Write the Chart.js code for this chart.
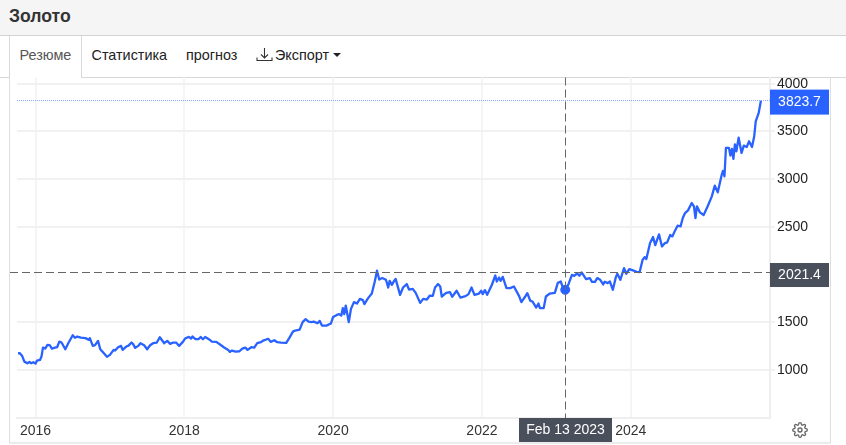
<!DOCTYPE html>
<html>
<head>
<meta charset="utf-8">
<title>Золото</title>
<script src="https://cdn.jsdelivr.net/npm/chart.js@4"></script>
<style>
    html, body { margin: 0; padding: 0; background: #fff; }
    body { width: 846px; height: 445px; overflow: hidden; position: relative; font-family: "Liberation Sans", Arial, sans-serif; }
    #head { position: absolute; left: 0; top: 0; width: 846px; height: 35px; background: #f5f5f5; border-bottom: 1px solid #d4d4d4; }
    #head b { position: absolute; left: 9px; top: 6px; font-size: 17.6px; color: #333; }
    #tabline { position: absolute; left: 0; top: 77px; width: 846px; height: 1px; background: #d8d8d8; }
    .tab { position: absolute; top: 47px; font-size: 14.4px; line-height: 16px; color: #222; white-space: nowrap; }
    #active { position: absolute; left: 9px; top: 36px; width: 71px; height: 42px; background: #fff; border-left: 1px solid #d8d8d8; border-right: 1px solid #d8d8d8; }
    #frame { position: absolute; left: 9px; top: 78px; width: 820px; height: 364px; border-left: 1px solid #dedede; border-right: 1px solid #dedede; border-bottom: 2px solid #ececec; }
    #chart { position: absolute; left: 0; top: 72px; }
    #caret { position: absolute; left: 333px; top: 53px; width: 0; height: 0; border-left: 4px solid transparent; border-right: 4px solid transparent; border-top: 4.5px solid #222; }
    svg { position: absolute; }
</style>
</head>
<body>
<div id="head"><b>Золото</b></div>
<div id="tabline"></div>
<div id="active"></div>
<div class="tab" style="left:19.5px;color:#555">Резюме</div>
<div class="tab" style="left:91.5px">Статистика</div>
<div class="tab" style="left:186px">прогноз</div>
<svg style="left:256px;top:47px" width="17" height="16" viewBox="0 0 17 16" fill="none" stroke="#333" stroke-width="1.1">
    <path d="M8.5 1V10.5M5 7.5L8.5 11L12 7.5M1 10.5V13.5H16V10.5"/>
</svg>
<div class="tab" style="left:275px">Экспорт</div>
<div id="caret"></div>
<div id="frame"></div>
<canvas id="chart" width="846" height="373"></canvas>
<svg style="left:792px;top:422px" width="16" height="16" viewBox="0 0 24 24" fill="none" stroke="#666" stroke-width="2">
    <circle cx="12" cy="12" r="3"/>
    <path d="M19.4 15a1.65 1.65 0 0 0 .33 1.82l.06.06a2 2 0 0 1 0 2.83 2 2 0 0 1-2.83 0l-.06-.06a1.65 1.65 0 0 0-1.82-.33 1.65 1.65 0 0 0-1 1.51V21a2 2 0 0 1-2 2 2 2 0 0 1-2-2v-.09A1.65 1.65 0 0 0 9 19.4a1.65 1.65 0 0 0-1.82.33l-.06.06a2 2 0 0 1-2.83 0 2 2 0 0 1 0-2.83l.06-.06a1.65 1.65 0 0 0 .33-1.82 1.65 1.65 0 0 0-1.51-1H3a2 2 0 0 1-2-2 2 2 0 0 1 2-2h.09A1.65 1.65 0 0 0 4.6 9a1.65 1.65 0 0 0-.33-1.82l-.06-.06a2 2 0 0 1 0-2.83 2 2 0 0 1 2.83 0l.06.06a1.65 1.65 0 0 0 1.82.33H9a1.65 1.65 0 0 0 1-1.51V3a2 2 0 0 1 2-2 2 2 0 0 1 2 2v.09a1.65 1.65 0 0 0 1 1.51 1.65 1.65 0 0 0 1.82-.33l.06-.06a2 2 0 0 1 2.83 0 2 2 0 0 1 0 2.83l-.06.06a1.65 1.65 0 0 0-.33 1.82V9a1.65 1.65 0 0 0 1.51 1H21a2 2 0 0 1 2 2 2 2 0 0 1-2 2h-.09a1.65 1.65 0 0 0-1.51 1z"/>
</svg>
<script>
// Gold price (decimal year, USD)
var years = [
    2015.765, 2015.79, 2015.82, 2015.85, 2015.89, 2015.92, 2015.94, 2015.97, 2016.00, 2016.02, 2016.06, 2016.08, 2016.10, 2016.13, 2016.16, 2016.19,
    2016.22, 2016.26, 2016.29, 2016.32, 2016.35, 2016.40, 2016.44, 2016.50, 2016.53, 2016.56, 2016.61, 2016.67, 2016.72, 2016.73, 2016.77, 2016.80,
    2016.84, 2016.87, 2016.91, 2016.96, 2017.00, 2017.05, 2017.07, 2017.11, 2017.15, 2017.17, 2017.22, 2017.25, 2017.29, 2017.31, 2017.34, 2017.38,
    2017.41, 2017.46, 2017.50, 2017.54, 2017.58, 2017.63, 2017.67, 2017.73, 2017.77, 2017.81, 2017.85, 2017.89, 2017.93, 2017.98, 2018.01, 2018.06,
    2018.09, 2018.11, 2018.15, 2018.19, 2018.22, 2018.25, 2018.28, 2018.33, 2018.37, 2018.43, 2018.48, 2018.53, 2018.59, 2018.61, 2018.64, 2018.69,
    2018.74, 2018.78, 2018.82, 2018.85, 2018.90, 2018.94, 2018.98, 2019.03, 2019.06, 2019.11, 2019.13, 2019.16, 2019.21, 2019.25, 2019.30, 2019.37,
    2019.41, 2019.46, 2019.49, 2019.55, 2019.59, 2019.63, 2019.67, 2019.71, 2019.74, 2019.79, 2019.82, 2019.85, 2019.91, 2019.97, 2020.00, 2020.05,
    2020.08, 2020.11, 2020.13, 2020.15, 2020.17, 2020.21, 2020.24, 2020.28, 2020.32, 2020.36, 2020.40, 2020.42, 2020.47, 2020.52, 2020.56, 2020.59,
    2020.62, 2020.66, 2020.71, 2020.74, 2020.76, 2020.79, 2020.82, 2020.84, 2020.90, 2020.94, 2020.99, 2021.02, 2021.07, 2021.11, 2021.17, 2021.21,
    2021.26, 2021.30, 2021.34, 2021.37, 2021.41, 2021.44, 2021.46, 2021.52, 2021.57, 2021.60, 2021.66, 2021.71, 2021.78, 2021.82, 2021.86, 2021.90,
    2021.96, 2021.99, 2022.01, 2022.04, 2022.07, 2022.13, 2022.18, 2022.20, 2022.23, 2022.25, 2022.28, 2022.33, 2022.38, 2022.43, 2022.50, 2022.53,
    2022.58, 2022.61, 2022.65, 2022.68, 2022.73, 2022.76, 2022.78, 2022.83, 2022.86, 2022.91, 2022.98, 2023.02, 2023.06, 2023.09, 2023.12, 2023.16,
    2023.21, 2023.24, 2023.28, 2023.31, 2023.34, 2023.40, 2023.45, 2023.48, 2023.52, 2023.55, 2023.59, 2023.63, 2023.65, 2023.69, 2023.72, 2023.76,
    2023.80, 2023.82, 2023.86, 2023.91, 2023.94, 2023.98, 2024.03, 2024.08, 2024.12, 2024.16, 2024.19, 2024.21, 2024.26, 2024.30, 2024.33, 2024.38,
    2024.42, 2024.46, 2024.49, 2024.53, 2024.56, 2024.59, 2024.63, 2024.67, 2024.70, 2024.73, 2024.77, 2024.82, 2024.85, 2024.87, 2024.89, 2024.93,
    2024.98, 2025.03, 2025.09, 2025.13, 2025.17, 2025.22, 2025.24, 2025.26, 2025.28, 2025.32, 2025.34, 2025.36, 2025.38, 2025.40, 2025.42, 2025.45,
    2025.49, 2025.52, 2025.56, 2025.59, 2025.63, 2025.66, 2025.68, 2025.72, 2025.75
];
var prices = [
    1175, 1175, 1147, 1087, 1070, 1084, 1070, 1081, 1066, 1098, 1105, 1140, 1234, 1224, 1262, 1259,
    1224, 1234, 1238, 1297, 1287, 1217, 1280, 1364, 1336, 1350, 1339, 1333, 1315, 1333, 1252, 1259,
    1305, 1217, 1182, 1137, 1158, 1210, 1203, 1238, 1252, 1210, 1245, 1255, 1287, 1273, 1231, 1252,
    1280, 1259, 1217, 1259, 1280, 1287, 1343, 1280, 1305, 1273, 1287, 1287, 1252, 1294, 1329, 1346,
    1329, 1350, 1322, 1322, 1346, 1322, 1346, 1322, 1297, 1294, 1266, 1238, 1210, 1189, 1203, 1192,
    1196, 1224, 1234, 1210, 1238, 1234, 1280, 1291, 1308, 1322, 1325, 1294, 1312, 1291, 1287, 1283,
    1333, 1402, 1413, 1423, 1501, 1532, 1507, 1501, 1507, 1490, 1514, 1465, 1465, 1486, 1556, 1577,
    1585, 1570, 1648, 1585, 1675, 1501, 1640, 1711, 1696, 1745, 1732, 1690, 1753, 1801, 1927, 2040,
    1948, 1963, 1945, 1864, 1934, 1892, 1934, 1955, 1787, 1864, 1900, 1843, 1850, 1808, 1703, 1745,
    1738, 1780, 1777, 1864, 1900, 1875, 1770, 1808, 1816, 1767, 1830, 1759, 1774, 1795, 1864, 1787,
    1801, 1830, 1795, 1837, 1787, 1885, 1990, 1927, 1969, 1934, 1976, 1858, 1858, 1875, 1774, 1711,
    1767, 1805, 1725, 1717, 1654, 1696, 1648, 1648, 1770, 1801, 1808, 1913, 1927, 1858, 1840, 1892,
    1997, 1985, 2011, 1987, 2022, 1952, 1963, 1924, 1924, 1963, 1945, 1896, 1924, 1910, 1927, 1840,
    1973, 2008, 1945, 2068, 2008, 2057, 2043, 2029, 2026, 2155, 2183, 2162, 2330, 2393, 2309, 2421,
    2295, 2330, 2337, 2414, 2400, 2452, 2512, 2505, 2593, 2645, 2673, 2750, 2715, 2593, 2715, 2652,
    2624, 2708, 2820, 2932, 2862, 3037, 3086, 3030, 3328, 3328, 3247, 3317, 3212, 3365, 3292, 3436,
    3275, 3352, 3338, 3397, 3338, 3450, 3607, 3695, 3823.7
];
var xTicks = [2016, 2018, 2020, 2022, 2024];
var yTicks = [1000, 1500, 2500, 3000, 3500, 4000];

// crosshair and last price
var lastPrice = 3823.7;
var crossYear = 2023.12;
var crossMarker = 1840;
var crossPrice = 2021.4;
var crossDate = 'Feb 13 2023';

function tag(ctx, x, y, w, h, bg, text) {
    ctx.fillStyle = bg;
    ctx.fillRect(x, y, w, h);
    ctx.fillStyle = '#fff';
    ctx.font = '14px "Liberation Sans", Arial, sans-serif';
    ctx.textAlign = 'center';
    ctx.textBaseline = 'middle';
    ctx.fillText(text, x + w / 2, y + h / 2 + 0.5);
}

var overlays = {
    id: 'overlays',
    afterDatasetsDraw: function(chart) {
        var ctx = chart.ctx, area = chart.chartArea;
        var sx = chart.scales.x, sy = chart.scales.y;
        var lastY = sy.getPixelForValue(lastPrice);
        var crossX = Math.floor(sx.getPixelForValue(crossYear)) + 0.5;
        var crossY = sy.getPixelForValue(crossPrice);
        var crossLine = Math.floor(crossY) + 0.5;
        ctx.save();

        // dotted line at last price
        ctx.strokeStyle = '#86a6ff';
        ctx.lineWidth = 1;
        ctx.setLineDash([1, 1]);
        ctx.beginPath();
        ctx.moveTo(area.left, Math.floor(lastY) + 0.5);
        ctx.lineTo(area.right, Math.floor(lastY) + 0.5);
        ctx.stroke();

        // dashed crosshair
        ctx.strokeStyle = '#666';
        ctx.setLineDash([8, 4]);
        ctx.beginPath();
        ctx.moveTo(10, crossLine);
        ctx.lineTo(area.right, crossLine);
        ctx.moveTo(crossX, area.top);
        ctx.lineTo(crossX, area.bottom);
        ctx.stroke();
        ctx.setLineDash([]);

        tag(ctx, area.right, lastY - 11, 59, 25, '#2962ff', lastPrice.toFixed(1));
        tag(ctx, area.right, crossY - 9.500, 59, 24, '#4a4f5c', crossPrice.toFixed(1));
        tag(ctx, crossX - 46.500, area.bottom, 93, 24, '#4a4f5c', crossDate);
        ctx.restore();
    }
};

var ctx = document.getElementById('chart').getContext('2d');
var goldChart = new Chart(ctx, {
    type: 'line',
    data: {
        datasets: [{
            data: years.map(function(y, i) { return { x: y, y: prices[i] }; }),
            borderColor: '#2962ff',
            borderWidth: 2.3,
            borderJoinStyle: 'round',
            pointRadius: 0,
            tension: 0
        }, {
            data: [{ x: crossYear, y: crossMarker }],
            backgroundColor: '#2962ff',
            borderColor: '#2962ff',
            pointRadius: 4.5,
            showLine: false
        }]
    },
    plugins: [overlays],
    options: {
        responsive: false,
        animation: false,
        devicePixelRatio: 1,
        layout: { padding: { left: 17, right: 16, top: 0, bottom: 3 } },
        plugins: { legend: { display: false }, tooltip: { enabled: false } },
        scales: {
            x: {
                type: 'linear',
                min: 2015.751,
                max: 2025.872,
                afterBuildTicks: function(s) { s.ticks = xTicks.map(function(v) { return { value: v }; }); },
                afterFit: function(s) { s.height = 24; s.paddingLeft = 0; s.paddingRight = 0; },
                grid: { color: '#f3f5f9', lineWidth: 2, drawTicks: false },
                border: { color: '#eeeeee', width: 2 },
                ticks: {
                    autoSkip: false,
                    maxRotation: 0,
                    padding: 5,
                    color: '#333',
                    font: { family: '"Liberation Sans", Arial, sans-serif', size: 14 },
                    callback: function(v) { return String(v); }
                }
            },
            y: {
                position: 'right',
                min: 496,
                max: 4066,
                afterBuildTicks: function(s) { s.ticks = yTicks.map(function(v) { return { value: v }; }); },
                afterFit: function(s) { s.width = 60; s.paddingTop = 0; s.paddingBottom = 0; },
                grid: { color: '#f1f1f1', lineWidth: 2, tickLength: 5, tickColor: '#f1f1f1' },
                border: { color: '#eeeeee', width: 2 },
                ticks: {
                    padding: 2,
                    color: '#222',
                    font: { family: '"Liberation Sans", Arial, sans-serif', size: 14 },
                    callback: function(v) { return String(v); }
                }
            }
        }
    }
});
</script>
</body>
</html>
